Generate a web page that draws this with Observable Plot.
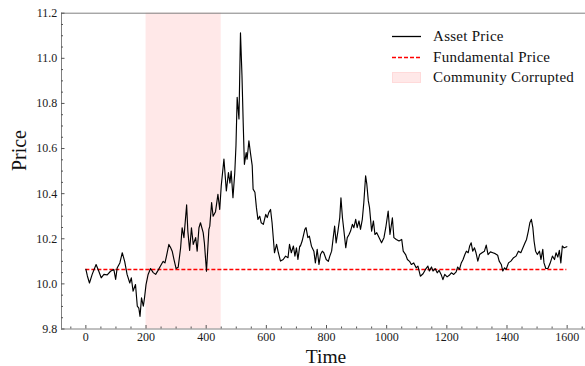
<!DOCTYPE html>
<html>
<head>
<meta charset="utf-8">
<script src="https://cdn.jsdelivr.net/npm/d3@7"></script>
<script src="https://cdn.jsdelivr.net/npm/@observablehq/plot@0.6"></script>
<style>
  html, body { margin: 0; padding: 0; background: #fff; }
  #wrap { position: relative; width: 585px; height: 366px; font-family: "Liberation Serif", serif; }
  #wrap svg { display: block; }
  .legend { position: absolute; left: 391.5px; top: 26.5px; }
  .row { display: flex; align-items: center; height: 20.5px; }
  .sw { width: 29px; height: 11px; margin-right: 12.6px; }
  .txt { font-size: 15px; line-height: 1; color: #111; letter-spacing: 0.25px; white-space: nowrap; }
</style>
</head>
<body>
<div id="wrap"></div>
<script>
// Simulated asset price path (time step, price)
const assetTime = [
  0, 5, 12, 21, 34, 43, 51, 60, 71, 82, 93, 99, 104, 113, 121, 129, 137, 146, 151, 157,
  165, 171, 176, 180, 185, 191, 195, 200, 207, 215, 224, 232, 240, 248, 257, 263, 268, 276, 282, 287,
  293, 300, 307, 315, 320, 326, 335, 339, 345, 351, 357, 365, 370, 376,
  381, 390, 394, 401, 409, 412, 418, 423, 431, 439, 445, 450, 459, 467, 474, 479, 483, 489, 495, 499,
  503, 509, 514, 519, 523, 527, 533, 536, 542, 547, 553, 556, 562, 567, 572, 578, 583, 590, 598, 603,
  608, 614, 619, 627, 634, 640, 647, 656, 664, 672, 677, 683, 690, 695, 700, 705, 711,
  713, 719, 728, 732, 738, 743, 750, 758, 763, 769, 775, 780, 786, 791, 799, 806, 811, 817, 821, 827,
  832, 838, 844, 848, 853, 858, 864, 869, 875, 880, 886, 891, 897, 902, 908, 913, 919, 924, 930, 934,
  939, 943, 950, 956, 961, 967, 975, 983, 991, 997, 1005, 1011, 1019, 1024, 1032, 1041, 1050, 1055, 1063, 1069,
  1076, 1082, 1090, 1098, 1104,
  1112, 1121, 1129, 1137, 1142, 1149, 1154, 1161, 1168, 1174, 1181, 1187, 1193, 1201, 1208, 1215, 1223, 1231, 1236, 1242,
  1248, 1254, 1260, 1265, 1271, 1276, 1281, 1286, 1292, 1297, 1303, 1309, 1317, 1325, 1331, 1337, 1345, 1353, 1361, 1369,
  1374, 1381, 1386, 1392, 1397, 1405, 1413, 1422, 1430, 1438, 1446, 1453, 1460, 1465, 1471, 1476, 1481, 1486, 1490, 1495,
  1501, 1508, 1513, 1519, 1523, 1529, 1536, 1543, 1551, 1558, 1563, 1569, 1574, 1579, 1584, 1590, 1599
];
const assetPrice = [
  10.065, 10.035, 10.004, 10.042, 10.086, 10.056, 10.027, 10.042, 10.040, 10.056, 10.064, 10.020, 10.070, 10.093, 10.138, 10.100, 10.042, 10.004, 10.027, 9.968,
  9.997, 9.901, 9.893, 9.856, 9.938, 9.901, 9.938, 9.997, 10.042, 10.068, 10.050, 10.042, 10.060, 10.079, 10.100, 10.093, 10.123, 10.175, 10.160, 10.145,
  10.108, 10.068, 10.074, 10.160, 10.249, 10.205, 10.350, 10.234, 10.148, 10.249, 10.175, 10.205, 10.145, 10.249,
  10.271, 10.227, 10.182, 10.056, 10.242, 10.256, 10.360, 10.300, 10.320, 10.397, 10.330, 10.434, 10.553, 10.412, 10.493, 10.447, 10.500, 10.382, 10.493, 10.612,
  10.827, 10.731, 11.113, 10.923, 10.716, 10.530, 10.582, 10.553, 10.634, 10.582, 10.524, 10.420, 10.406, 10.338, 10.286, 10.300, 10.271, 10.264, 10.308, 10.294,
  10.316, 10.330, 10.271, 10.138, 10.175, 10.138, 10.101, 10.108, 10.123, 10.116, 10.175, 10.138, 10.168, 10.123, 10.160, 10.108, 10.168,
  10.167, 10.190, 10.242, 10.249, 10.205, 10.212, 10.167, 10.145, 10.093, 10.153, 10.086, 10.130, 10.145, 10.138, 10.108, 10.100, 10.123, 10.145, 10.190, 10.256,
  10.182, 10.234, 10.293, 10.382, 10.293, 10.234, 10.160, 10.205, 10.219, 10.234, 10.264, 10.249, 10.286, 10.249, 10.279, 10.242, 10.286, 10.360, 10.479, 10.442,
  10.368, 10.338, 10.234, 10.279, 10.219, 10.227, 10.205, 10.182, 10.205, 10.249, 10.323, 10.219, 10.293, 10.205, 10.197, 10.190, 10.197, 10.145, 10.130, 10.108,
  10.100, 10.086, 10.093, 10.071, 10.079,
  10.034, 10.045, 10.064, 10.079, 10.057, 10.075, 10.057, 10.068, 10.049, 10.060, 10.042, 10.019, 10.042, 10.031, 10.038, 10.049, 10.042, 10.053, 10.075, 10.064,
  10.093, 10.108, 10.130, 10.145, 10.138, 10.168, 10.182, 10.145, 10.160, 10.138, 10.101, 10.130, 10.138, 10.145, 10.172, 10.130, 10.142, 10.138, 10.134, 10.127,
  10.101, 10.086, 10.057, 10.071, 10.064, 10.093, 10.101, 10.116, 10.123, 10.145, 10.138, 10.160, 10.182, 10.197, 10.234, 10.271, 10.286, 10.249, 10.190, 10.145,
  10.130, 10.145, 10.108, 10.153, 10.093, 10.068, 10.068, 10.090, 10.123, 10.108, 10.138, 10.119, 10.149, 10.093, 10.168, 10.160, 10.165
];

// Constant fundamental value over the whole run
const fundamental = [{price: 10.064, start: 0, end: 1599}];

// Interval during which the community is corrupted
const corruptedPeriods = [{start: 200, end: 450}];

// Axis ticks
const xTicks = [0, 200, 400, 600, 800, 1000, 1200, 1400, 1600];
const yTicks = [9.8, 10.0, 10.2, 10.4, 10.6, 10.8, 11.0, 11.2];
const xDomain = [-81, 1661];
const yDomain = [9.8, 11.2];

const xMinor = d3.range(-50, 1661, 50).filter(v => v % 200 !== 0);
const yMinor = d3.range(0, 29).map(i => +(9.8 + i * 0.05).toFixed(2)).filter(v => Math.round(v * 100) % 20 !== 0);

const spine = "#808080";
const tickColor = "#555";
const dashRed = "#ff0000";

const chart = Plot.plot({
  width: 585,
  height: 366,
  marginLeft: 61,
  marginRight: 0,
  marginTop: 12.7,
  marginBottom: 37.5,
  x: {domain: xDomain, axis: null},
  y: {domain: yDomain, axis: null},
  style: {fontFamily: "'Liberation Serif', serif", fontSize: "12px", color: "#1a1a1a", background: "white", overflow: "visible"},
  marks: [
    Plot.rect(corruptedPeriods, {x1: "start", x2: "end", fill: "#ff0000", fillOpacity: 0.09}),
    Plot.ruleY(fundamental, {y: "price", x1: "start", x2: "end", stroke: dashRed, strokeWidth: 1.4, strokeDasharray: "4,2"}),
    Plot.lineY(assetPrice, {x: assetTime, stroke: "black", strokeWidth: 1.15}),
    // spines
    Plot.ruleX([xDomain[0]], {stroke: spine, strokeWidth: 1}),
    Plot.ruleY(yDomain, {stroke: spine, strokeWidth: 1}),
    // inward ticks
    Plot.axisX(xTicks, {tickSize: -3.5, tickFormat: () => "", stroke: tickColor, label: null}),
    Plot.axisX(xMinor, {tickSize: -2, tickFormat: () => "", stroke: tickColor, label: null}),
    Plot.axisY(yTicks, {tickSize: -3.5, tickFormat: () => "", stroke: tickColor, label: null}),
    Plot.axisY(yMinor, {tickSize: -2, tickFormat: () => "", stroke: tickColor, label: null}),
    // tick labels
    Plot.axisX(xTicks, {tickSize: 0, tickPadding: 3.5, fontSize: 12, tickFormat: d3.format("d"), label: null}),
    Plot.axisY(yTicks, {tickSize: 0, tickPadding: 4.3, fontSize: 12, tickFormat: d3.format(".1f"), label: null}),
    // axis titles
    Plot.text(["Time"], {frameAnchor: "bottom", dx: 2.5, dy: 27.8, fontSize: 19.5, lineAnchor: "middle", fill: "#111"}),
    Plot.text(["Price"], {frameAnchor: "left", dx: -41.9, rotate: -90, fontSize: 20, lineAnchor: "middle", fill: "#111"})
  ]
});

const wrap = document.getElementById("wrap");
wrap.appendChild(chart);

// Legend
const legendItems = [
  {label: "Asset Price", swatch: '<line x1="0" x2="29" y1="5.5" y2="5.5" stroke="#000000" stroke-width="1.3"/>'},
  {label: "Fundamental Price", swatch: '<line x1="0" x2="29" y1="5.5" y2="5.5" stroke="#ff0000" stroke-width="1.4" stroke-dasharray="4,2"/>'},
  {label: "Community Corrupted", swatch: '<rect x="0.5" y="0.5" width="28" height="10" fill="#ffe8e8" stroke="#ffdada"/>'}
];
const legend = document.createElement("div");
legend.className = "legend";
legend.innerHTML = legendItems.map(d =>
  `<div class="row"><svg class="sw" width="29" height="11">${d.swatch}</svg><span class="txt">${d.label}</span></div>`
).join("");
wrap.appendChild(legend);
</script>
</body>
</html>
